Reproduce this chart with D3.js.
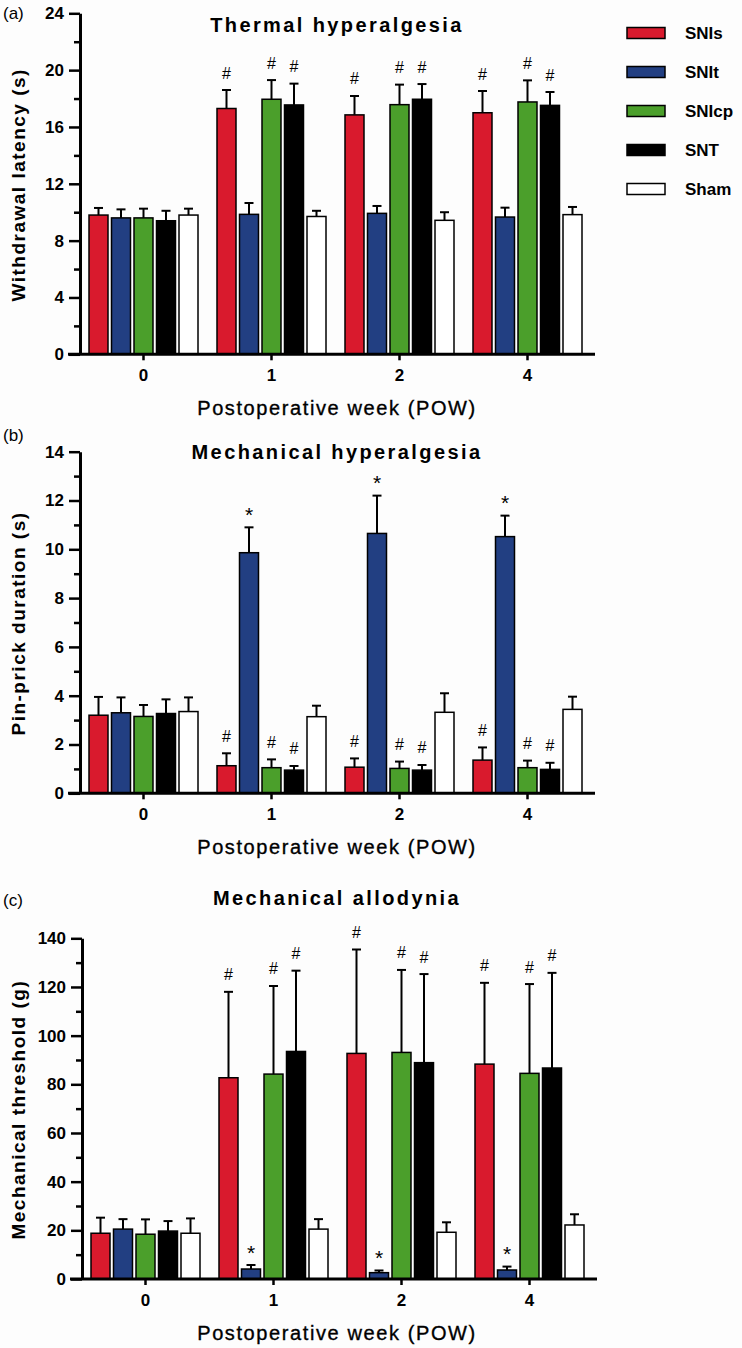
<!DOCTYPE html>
<html>
<head>
<meta charset="utf-8">
<script src="https://cdn.jsdelivr.net/npm/d3@7"></script>
<style>
  html, body { margin: 0; padding: 0; background: #fdfdfd; }
  svg { display: block; }
  text { font-family: "Liberation Sans", Arial, sans-serif; fill: #000; }
</style>
</head>
<body>
<svg id="chart" width="742" height="1348"></svg>
<script>
// ---------- data ----------
const groups = ["0", "1", "2", "4"];
const series = ["SNIs", "SNIt", "SNIcp", "SNT", "Sham"];
const seriesColors = ["#d91a2d", "#223f82", "#4b9f2b", "#000000", "#ffffff"];

// Thermal hyperalgesia: withdrawal latency (s), rows = week, cols = series
const thermalMean = [
  [9.8, 9.6, 9.6, 9.4, 9.8],
  [17.3, 9.85, 17.95, 17.55, 9.7],
  [16.85, 9.92, 17.57, 17.95, 9.43],
  [17.0, 9.66, 17.76, 17.52, 9.83]
];
const thermalErr = [
  [0.5, 0.6, 0.65, 0.7, 0.45],
  [1.3, 0.8, 1.35, 1.5, 0.4],
  [1.33, 0.52, 1.41, 1.07, 0.57],
  [1.53, 0.66, 1.52, 0.94, 0.54]
];
const thermalMarks = [
  ["", "", "", "", ""],
  ["#", "", "#", "#", ""],
  ["#", "", "#", "#", ""],
  ["#", "", "#", "#", ""]
];
const thermalTicks = [0, 4, 8, 12, 16, 20, 24];

// Mechanical hyperalgesia: pin-prick duration (s)
const pinMean = [
  [3.2, 3.3, 3.15, 3.27, 3.35],
  [1.13, 9.86, 1.05, 0.95, 3.14],
  [1.07, 10.65, 1.02, 0.95, 3.32],
  [1.36, 10.52, 1.05, 0.98, 3.44]
];
const pinErr = [
  [0.75, 0.63, 0.47, 0.58, 0.58],
  [0.51, 1.04, 0.34, 0.17, 0.45],
  [0.36, 1.55, 0.28, 0.21, 0.78],
  [0.52, 0.86, 0.29, 0.27, 0.52]
];
const pinMarks = [
  ["", "", "", "", ""],
  ["#", "*", "#", "#", ""],
  ["#", "*", "#", "#", ""],
  ["#", "*", "#", "#", ""]
];
const pinTicks = [0, 2, 4, 6, 8, 10, 12, 14];

// Mechanical allodynia: mechanical threshold (g)
const alloMean = [
  [18.8, 20.5, 18.4, 19.7, 18.8],
  [82.7, 4.1, 84.2, 93.5, 20.5],
  [92.7, 2.6, 93.1, 88.9, 19.2],
  [88.3, 3.7, 84.5, 86.7, 22.2]
];
const alloErr = [
  [6.4, 4.1, 6.1, 4.1, 6.1],
  [35.3, 1.65, 36.2, 33.2, 4.1],
  [42.7, 0.9, 33.9, 36.4, 4.1],
  [33.4, 1.4, 36.7, 39.1, 4.4]
];
const alloMarks = [
  ["", "", "", "", ""],
  ["#", "*", "#", "#", ""],
  ["#", "*", "#", "#", ""],
  ["#", "*", "#", "#", ""]
];
const alloTicks = [0, 20, 40, 60, 80, 100, 120, 140];

const panelLetters = ["(a)", "(b)", "(c)"];
const panelTitles = ["Thermal hyperalgesia", "Mechanical hyperalgesia", "Mechanical allodynia"];
const yTitles = ["Withdrawal latency (s)", "Pin-prick duration (s)", "Mechanical threshold (g)"];
const xTitle = "Postoperative week (POW)";

// ---------- layout ----------
const svg = d3.select("#chart");
svg.append("rect").attr("width", 742).attr("height", 1348).attr("fill", "#fdfdfd");

const panels = [
  { mean: thermalMean, err: thermalErr, marks: thermalMarks, ticks: thermalTicks,
    top: 13.3, bottom: 354.3, axisX: 80, shift: 0, letterY: 19, titleY: 32 },
  { mean: pinMean, err: pinErr, marks: pinMarks, ticks: pinTicks,
    top: 451.7, bottom: 793.3, axisX: 80, shift: 0, letterY: 441, titleY: 459 },
  { mean: alloMean, err: alloErr, marks: alloMarks, ticks: alloTicks,
    top: 938.3, bottom: 1279, axisX: 82, shift: 2, letterY: 906, titleY: 905 }
];

panels.forEach((p, pi) => {
  const g = svg.append("g");
  const ymax = p.ticks[p.ticks.length - 1];
  const y = d3.scaleLinear().domain([0, ymax]).range([p.bottom, p.top]);
  const x0 = d3.scaleBand().domain(groups).range([79.5 + p.shift, 591.5 + p.shift]).padding(0);
  const x1 = d3.scaleBand().domain(series).range([9.5, 118.5]).paddingInner(0.1556).paddingOuter(0);

  // bars
  groups.forEach((grp, gi) => {
    const gg = g.append("g").attr("transform", `translate(${x0(grp)},0)`);
    series.forEach((s, si) => {
      const v = p.mean[gi][si], e = p.err[gi][si];
      const bx = x1(s), bw = x1.bandwidth(), cx = bx + bw / 2;
      // error bar (upward only)
      gg.append("line").attr("x1", cx).attr("x2", cx)
        .attr("y1", y(v)).attr("y2", y(v + e))
        .attr("stroke", "#000").attr("stroke-width", 2);
      gg.append("line").attr("x1", cx - 4.5).attr("x2", cx + 4.5)
        .attr("y1", y(v + e)).attr("y2", y(v + e))
        .attr("stroke", "#000").attr("stroke-width", 2);
      gg.append("rect").attr("x", bx).attr("width", bw)
        .attr("y", y(v)).attr("height", y(0) - y(v))
        .attr("fill", seriesColors[si]).attr("stroke", "#000").attr("stroke-width", 1.5);
      const m = p.marks[gi][si];
      if (m) {
        gg.append("text").attr("x", cx).attr("y", y(v + e) - 17)
          .attr("text-anchor", "middle").attr("dominant-baseline", "central")
          .style("font-size", m === "*" ? "21px" : "16px")
          .attr("dy", m === "*" ? "4" : "0")
          .text(m);
      }
    });
  });

  // y axis
  const major = p.ticks;
  const minor = d3.range(0, major.length - 1).map(i => (major[i] + major[i + 1]) / 2);
  const yAxis = g.append("g").attr("transform", `translate(${p.axisX},0)`)
    .call(d3.axisLeft(y).tickValues(major).tickSize(11).tickSizeOuter(0).tickPadding(5));
  yAxis.select(".domain").attr("stroke-width", 3).attr("stroke", "#000");
  yAxis.selectAll(".tick line").attr("stroke-width", 2.5).attr("stroke", "#000");
  yAxis.selectAll(".tick text").style("font-size", "17px").style("font-weight", "bold")
    .style("font-family", "'Liberation Sans', Arial, sans-serif").attr("fill", "#000");
  const yMinor = g.append("g").attr("transform", `translate(${p.axisX},0)`)
    .call(d3.axisLeft(y).tickValues(minor).tickSize(6).tickFormat(""));
  yMinor.select(".domain").remove();
  yMinor.selectAll(".tick line").attr("stroke-width", 2.5).attr("stroke", "#000");

  // x axis
  g.append("line").attr("x1", 68 + p.shift).attr("x2", 595 + p.shift)
    .attr("y1", p.bottom).attr("y2", p.bottom)
    .attr("stroke", "#000").attr("stroke-width", 3);
  const xAxis = g.append("g").attr("transform", `translate(0,${p.bottom})`)
    .call(d3.axisBottom(x0).tickSize(6).tickPadding(9));
  xAxis.select(".domain").remove();
  xAxis.selectAll(".tick line").attr("stroke-width", 2.5).attr("stroke", "#000");
  xAxis.selectAll(".tick text").style("font-size", "17px").style("font-weight", "bold")
    .style("font-family", "'Liberation Sans', Arial, sans-serif").attr("fill", "#000");

  // titles
  g.append("text").attr("x", 3).attr("y", p.letterY).style("font-size", "17px").text(panelLetters[pi]);
  g.append("text").attr("x", 337).attr("y", p.titleY).attr("text-anchor", "middle")
    .style("font-size", "20px").style("font-weight", "bold").style("letter-spacing", "2.4px")
    .text(panelTitles[pi]);
  g.append("text").attr("x", 337).attr("y", p.bottom + 61).attr("text-anchor", "middle")
    .style("font-size", "20px").style("letter-spacing", "1.6px")
    .style("stroke", "#000").style("stroke-width", "0.35px")
    .text(xTitle);
  g.append("text")
    .attr("transform", `translate(25,${(p.top + p.bottom) / 2 + 1}) rotate(-90)`)
    .attr("text-anchor", "middle")
    .style("font-size", "19px").style("font-weight", "bold").style("letter-spacing", "1.5px")
    .text(yTitles[pi]);
});

// legend
const legend = svg.append("g");
series.forEach((s, i) => {
  const cy = 33 + i * 39;
  legend.append("rect").attr("x", 627).attr("y", cy - 5.5).attr("width", 38).attr("height", 11)
    .attr("fill", seriesColors[i]).attr("stroke", "#000").attr("stroke-width", 1.5);
  legend.append("text").attr("x", 685).attr("y", cy + 6)
    .style("font-size", "17px").style("font-weight", "bold").text(s);
});
</script>
</body>
</html>
